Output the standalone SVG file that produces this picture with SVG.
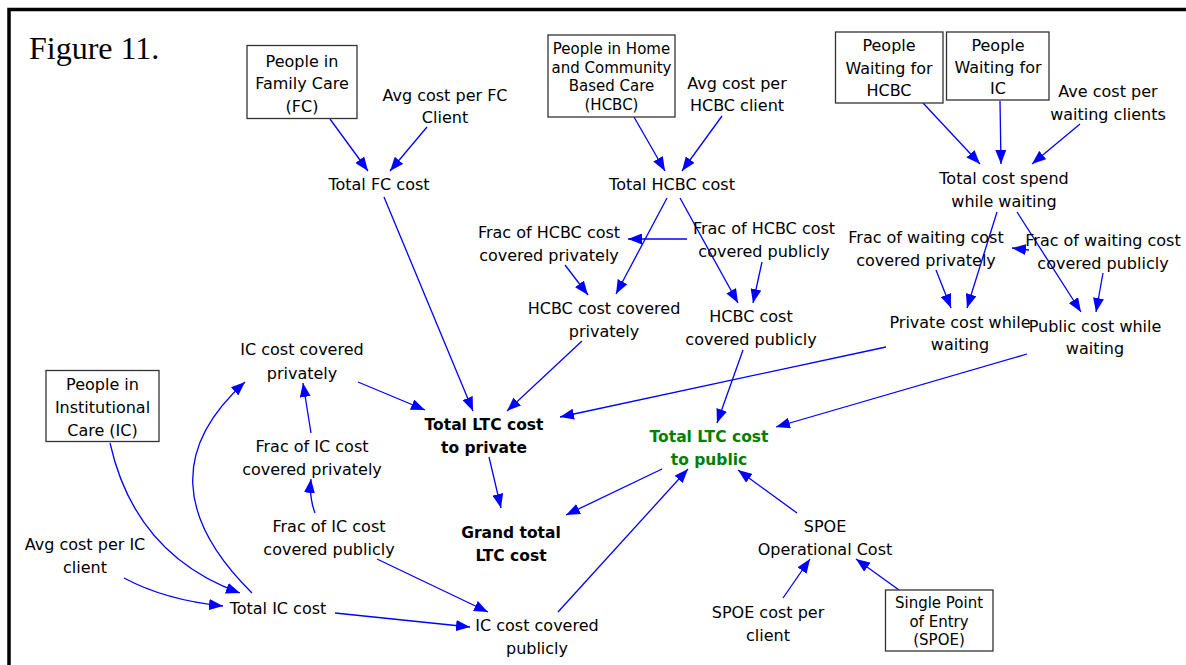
<svg xmlns="http://www.w3.org/2000/svg" width="1186" height="665" viewBox="0 0 1186 665">
  <style>
    .lbl { font-family: "DejaVu Sans", "Liberation Sans", sans-serif; font-size: 16px; fill: #000; text-anchor: middle; }
    .sm { font-size: 15px; }
    .bold { font-weight: bold; font-size: 15.5px; }
    .green { fill: #008000; }
    .box { fill: #fff; stroke: #333; stroke-width: 1.3; }
    .link { fill: none; stroke: #0000ff; stroke-width: 1.3; marker-end: url(#ah); }
    .title { font-family: "Liberation Serif", "Times New Roman", serif; font-size: 32px; fill: #000; }
  </style>
  <defs>
    <marker id="ah" viewBox="0 0 14 11" refX="14" refY="5.5" markerWidth="14" markerHeight="11" markerUnits="userSpaceOnUse" orient="auto">
      <path d="M0,0 L14,5.5 L0,11 z" fill="#0000ff"/>
    </marker>
  </defs>

  <rect width="1186" height="665" fill="#fff"/>
  <!-- page frame -->
  <path d="M9,665 V9.5 H1186" fill="none" stroke="#000" stroke-width="3.5"/>
  <text class="title" x="29" y="59">Figure 11.</text>

  <!-- connectors -->
  <g id="connectors">
    <path class="link" d="M330,119 L368,171"/>
    <path class="link" d="M427,127 L390,171"/>
    <path class="link" d="M384,197 L473,411"/>
    <path class="link" d="M634,117 L665,171"/>
    <path class="link" d="M722,116 L682,171"/>
    <path class="link" d="M667,198 L616,294"/>
    <path class="link" d="M680,198 L738,303"/>
    <path class="link" d="M687,239 L628,239"/>
    <path class="link" d="M565,265 L588,295"/>
    <path class="link" d="M762,262 L753,303"/>
    <path class="link" d="M582,341 L507,411"/>
    <path class="link" d="M743,350 L717,423"/>
    <path class="link" d="M923,103 L980,164"/>
    <path class="link" d="M1000,101 L1001,164"/>
    <path class="link" d="M1080,124 L1032,164"/>
    <path class="link" d="M997,212 L967,308"/>
    <path class="link" d="M1017,212 L1081,312"/>
    <path class="link" d="M1029,250 L1012,248"/>
    <path class="link" d="M936,270 L951,308"/>
    <path class="link" d="M1103,273 L1096,312"/>
    <path class="link" d="M886,347 L560,417"/>
    <path class="link" d="M1027,354 L776,427"/>
    <path class="link" d="M358,382 L425,410"/>
    <path class="link" d="M110,443 Q135,555 240,593"/>
    <path class="link" d="M124,578 Q165,600 223,606"/>
    <path class="link" d="M252,593 Q137,479 245,382"/>
    <path class="link" d="M311,433 L303,383"/>
    <path class="link" d="M315,513 Q309,497 311,479"/>
    <path class="link" d="M377,559 L488,612"/>
    <path class="link" d="M335,613 L470,627"/>
    <path class="link" d="M558,612 L688,469"/>
    <path class="link" d="M662,469 L566,515"/>
    <path class="link" d="M489,457 L501,508"/>
    <path class="link" d="M797,513 L738,470"/>
    <path class="link" d="M783,598 L810,559"/>
    <path class="link" d="M899,590 L856,559"/>
  </g>

  <!-- nodes -->
  <g id="people-fc">
    <rect class="box" x="247" y="45.5" width="110" height="73"/>
    <text class="lbl" x="302" y="66.5">People in<tspan x="302" y="89">Family Care</tspan><tspan x="302" y="112">(FC)</tspan></text>
  </g>
  <g id="avg-cost-fc">
    <text class="lbl" x="445" y="100.5">Avg cost per FC<tspan x="445" y="122.5">Client</tspan></text>
  </g>
  <g id="total-fc-cost">
    <text class="lbl" x="379" y="190">Total FC cost</text>
  </g>
  <g id="people-hcbc">
    <rect class="box" x="548" y="35" width="127" height="82"/>
    <text class="lbl sm" x="611.5" y="54">People in Home<tspan x="611.5" y="73">and Community</tspan><tspan x="611.5" y="91">Based Care</tspan><tspan x="611.5" y="110">(HCBC)</tspan></text>
  </g>
  <g id="avg-cost-hcbc">
    <text class="lbl" x="737" y="88.5">Avg cost per<tspan x="737" y="110.5">HCBC client</tspan></text>
  </g>
  <g id="total-hcbc-cost">
    <text class="lbl" x="672" y="190">Total HCBC cost</text>
  </g>
  <g id="people-waiting-hcbc">
    <rect class="box" x="835.5" y="32" width="107.5" height="71"/>
    <text class="lbl" x="889" y="51">People<tspan x="889" y="74">Waiting for</tspan><tspan x="889" y="96">HCBC</tspan></text>
  </g>
  <g id="people-waiting-ic">
    <rect class="box" x="946.5" y="32" width="102.5" height="68"/>
    <text class="lbl" x="998" y="50.5">People<tspan x="998" y="72.5">Waiting for</tspan><tspan x="998" y="93.5">IC</tspan></text>
  </g>
  <g id="ave-cost-waiting">
    <text class="lbl" x="1108" y="96.5">Ave cost per<tspan x="1108" y="119.5">waiting clients</tspan></text>
  </g>
  <g id="total-cost-waiting">
    <text class="lbl" x="1004" y="183.5">Total cost spend<tspan x="1004" y="206.5">while waiting</tspan></text>
  </g>
  <g id="frac-hcbc-private">
    <text class="lbl" x="549" y="237.5">Frac of HCBC cost<tspan x="549" y="260.5">covered privately</tspan></text>
  </g>
  <g id="frac-hcbc-public">
    <text class="lbl" x="764" y="233.5">Frac of HCBC cost<tspan x="764" y="256.5">covered publicly</tspan></text>
  </g>
  <g id="hcbc-cost-private">
    <text class="lbl" x="604" y="313.5">HCBC cost covered<tspan x="604" y="337">privately</tspan></text>
  </g>
  <g id="hcbc-cost-public">
    <text class="lbl" x="751" y="322">HCBC cost<tspan x="751" y="345">covered publicly</tspan></text>
  </g>
  <g id="frac-waiting-private">
    <text class="lbl" x="926" y="242.5">Frac of waiting cost<tspan x="926" y="266">covered privately</tspan></text>
  </g>
  <g id="frac-waiting-public">
    <text class="lbl" x="1103" y="245.5">Frac of waiting cost<tspan x="1103" y="268.5">covered publicly</tspan></text>
  </g>
  <g id="private-cost-waiting">
    <text class="lbl" x="960" y="327.5">Private cost while<tspan x="960" y="349.5">waiting</tspan></text>
  </g>
  <g id="public-cost-waiting">
    <text class="lbl" x="1095" y="331.5">Public cost while<tspan x="1095" y="353.5">waiting</tspan></text>
  </g>
  <g id="ic-cost-private">
    <text class="lbl" x="302" y="354.5">IC cost covered<tspan x="302" y="378.5">privately</tspan></text>
  </g>
  <g id="people-ic">
    <rect class="box" x="46" y="370.5" width="113" height="71"/>
    <text class="lbl" x="102.5" y="389.5">People in<tspan x="102.5" y="412.5">Institutional</tspan><tspan x="102.5" y="435.5">Care (IC)</tspan></text>
  </g>
  <g id="frac-ic-private">
    <text class="lbl" x="312" y="451.5">Frac of IC cost<tspan x="312" y="474.5">covered privately</tspan></text>
  </g>
  <g id="frac-ic-public">
    <text class="lbl" x="329" y="531.5">Frac of IC cost<tspan x="329" y="554.5">covered publicly</tspan></text>
  </g>
  <g id="avg-cost-ic">
    <text class="lbl" x="85" y="549.5">Avg cost per IC<tspan x="85" y="572.5">client</tspan></text>
  </g>
  <g id="total-ic-cost">
    <text class="lbl" x="278" y="613.5">Total IC cost</text>
  </g>
  <g id="ic-cost-public">
    <text class="lbl" x="537" y="630.5">IC cost covered<tspan x="537" y="653.5">publicly</tspan></text>
  </g>
  <g id="total-ltc-private">
    <text class="lbl bold" x="484" y="429.5">Total LTC cost<tspan x="484" y="452.5">to private</tspan></text>
  </g>
  <g id="total-ltc-public">
    <text class="lbl bold green" x="709" y="441.5">Total LTC cost<tspan x="709" y="464.5">to public</tspan></text>
  </g>
  <g id="grand-total">
    <text class="lbl bold" x="511" y="537.5">Grand total<tspan x="511" y="560.5">LTC cost</tspan></text>
  </g>
  <g id="spoe-operational">
    <text class="lbl" x="825" y="531.5">SPOE<tspan x="825" y="554.5">Operational Cost</tspan></text>
  </g>
  <g id="spoe-cost-client">
    <text class="lbl" x="768" y="617.5">SPOE cost per<tspan x="768" y="640.5">client</tspan></text>
  </g>
  <g id="spoe-box">
    <rect class="box" x="885.5" y="590" width="107.5" height="61"/>
    <text class="lbl sm" x="939" y="608">Single Point<tspan x="939" y="626.5">of Entry</tspan><tspan x="939" y="645">(SPOE)</tspan></text>
  </g>
</svg>
